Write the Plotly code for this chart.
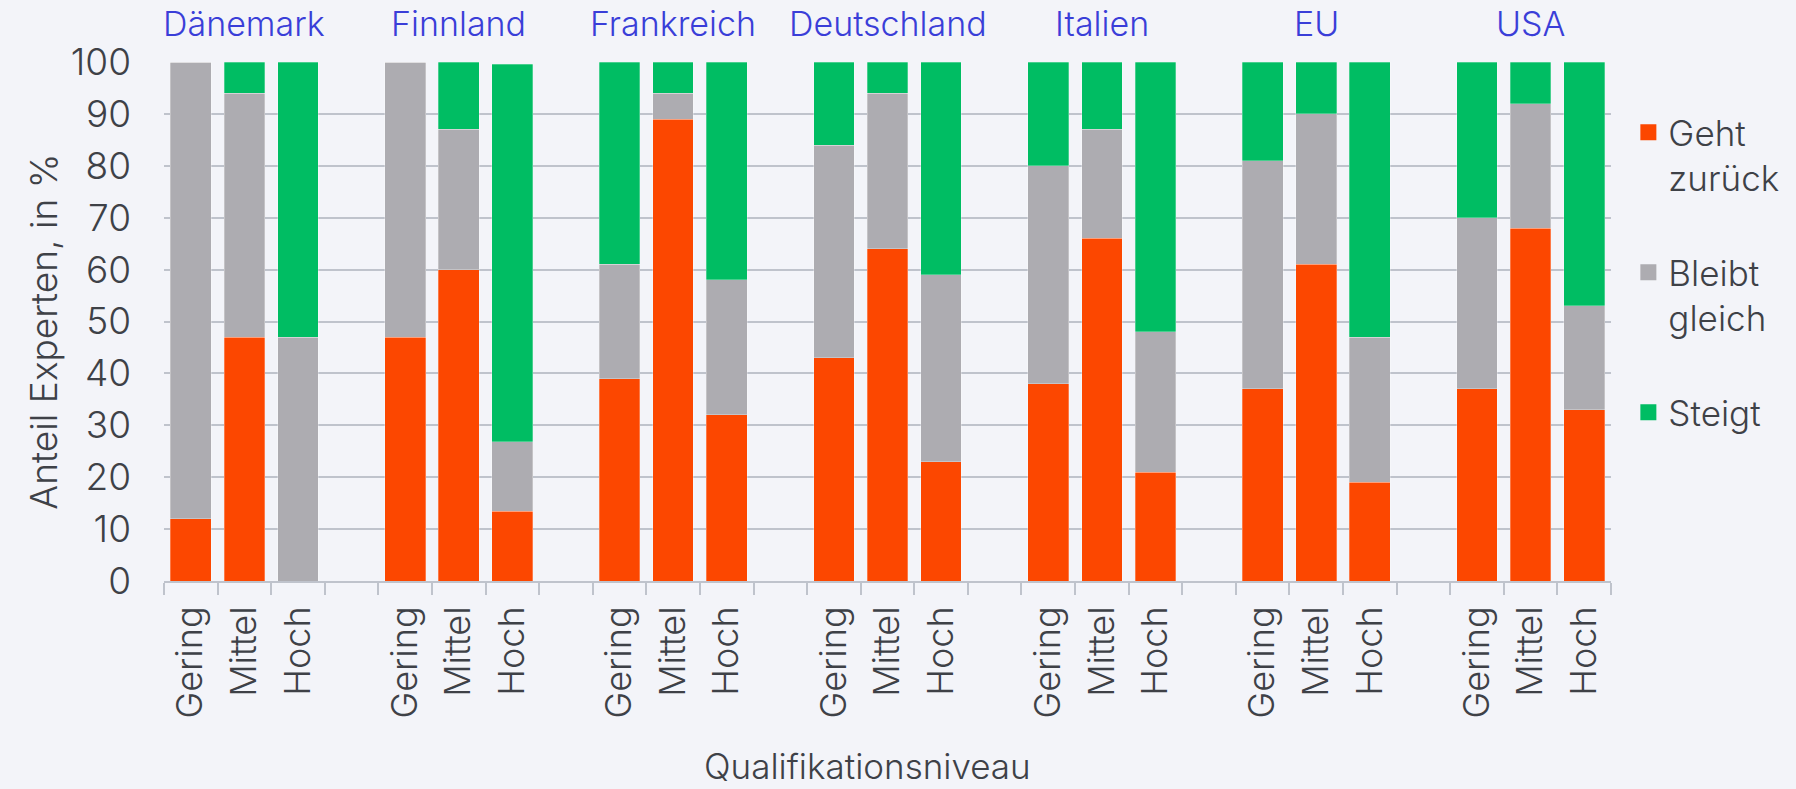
import plotly.graph_objects as go

# Anteil Experten je Land und Qualifikationsniveau (in %)
countries = ["Dänemark", "Finnland", "Frankreich", "Deutschland", "Italien", "EU", "USA"]
levels = ["Gering", "Mittel", "Hoch"]

geht_zurueck = [12, 47, 0, 47, 60, 13.4, 39, 89, 32, 43, 64, 23, 38, 66, 21, 37, 61, 19, 37, 68, 33]
bleibt_gleich = [88, 47, 47, 53, 27, 13.4, 22, 5, 26, 41, 30, 36, 42, 21, 27, 44, 29, 28, 33, 24, 20]
steigt = [0, 6, 53, 0, 13, 72.8, 39, 6, 42, 16, 6, 41, 20, 13, 52, 19, 10, 53, 30, 8, 47]

series_names = ["Geht<br>zurück", "Bleibt<br>gleich", "Steigt"]
colors = ["#FC4700", "#ADACB1", "#00BD63"]

BG = "#F3F4F9"
TXT = "#3E4147"
GRID = "#BFC3CC"
FONT = "Inter"

# one slot per bar, plus an empty slot between the countries
slots_per_group = len(levels) + 1
xpos = [g * slots_per_group + l for g in range(len(countries)) for l in range(len(levels))]
n_slots = len(countries) * slots_per_group - 1

fig = go.Figure()
for name, vals, col in zip(series_names, [geht_zurueck, bleibt_gleich, steigt], colors):
    fig.add_trace(go.Bar(
        x=xpos, y=vals, name=name, marker_color=col,
        marker_line=dict(width=0.8, color="rgba(255,255,255,0.35)"),
        showlegend=False,
    ))
    # legend entry with a bigger square
    fig.add_trace(go.Scatter(
        x=[None], y=[None], mode="markers", name=name,
        marker=dict(symbol="square", size=16, color=col),
        legendgroup=name,
    ))

for g, c in enumerate(countries):
    fig.add_annotation(
        x=g * slots_per_group + 1, y=1, xref="x", yref="paper",
        text=c, showarrow=False, yanchor="bottom", yshift=16,
        font=dict(family=FONT, size=34, color="#3A3ED8", weight=300),
    )

fig.add_annotation(
    x=0.486, y=-0.40, xref="paper", yref="paper", text="Qualifikationsniveau",
    showarrow=False, font=dict(family=FONT, size=35, color=TXT, weight=300),
)
fig.add_annotation(
    x=-0.10, y=0.48, xref="paper", yref="paper", text="Anteil Experten, in %",
    textangle=-90, showarrow=False, font=dict(family=FONT, size=37, color=TXT, weight=300),
)

fig.update_layout(
    barmode="stack",
    bargap=0.24,
    width=1796, height=789,
    margin=dict(l=164, r=178, t=62, b=208),
    paper_bgcolor=BG, plot_bgcolor=BG,
    font=dict(family=FONT, color=TXT, weight=300),
    legend=dict(
        x=1.012, xanchor="left", y=0.921, yanchor="top",
        font=dict(family=FONT, size=35, color=TXT, weight=300),
        tracegroupgap=46, valign="top", bgcolor="rgba(0,0,0,0)",
    ),
)

fig.update_xaxes(
    range=[-0.5, n_slots - 0.5],
    tickmode="array", tickvals=xpos, ticktext=levels * len(countries),
    tickangle=-90, ticks="", ticklabelstandoff=9,
    tickfont=dict(family=FONT, size=36, color=TXT, weight=300),
    showgrid=False, zeroline=False,
    showline=True, linecolor=GRID, linewidth=2,
    minor=dict(tickmode="array", tickvals=[k - 0.5 for k in range(n_slots + 1)],
               ticks="outside", ticklen=12, tickwidth=2, tickcolor=GRID, showgrid=False),
)
fig.update_yaxes(
    range=[0, 100], dtick=10,
    showgrid=True, gridcolor=GRID, gridwidth=2,
    zeroline=False, ticklabelstandoff=32,
    tickfont=dict(family=FONT, size=37, color=TXT, weight=300),
)

# no default page margin around the plot
fig.write_html("out.html", config={"displayModeBar": False},
               post_script="document.body.style.margin='0';")
